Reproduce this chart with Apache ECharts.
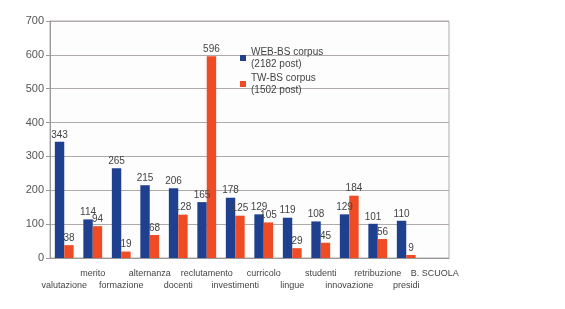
<!DOCTYPE html>
<html lang="it">
<head>
    <meta charset="UTF-8">
    <title>WEB-BS vs TW-BS</title>
    <script src="https://cdn.jsdelivr.net/npm/echarts@6/dist/echarts.min.js"></script>
    <style>
        html, body { margin: 0; padding: 0; background: #fff; }
        #chart { width: 565px; height: 309px; }
    </style>
</head>
<body>
    <div id="chart"></div>
    <script>
        // categorie e valori
        const categorie = ['valutazione', 'merito', 'formazione', 'alternanza', 'docenti', 'reclutamento',
            'investimenti', 'curricolo', 'lingue', 'studenti', 'innovazione', 'retribuzione', 'presidi', 'B. SCUOLA'];
        const webBS = [343, 114, 265, 215, 206, 165, 178, 129, 119, 108, 129, 101, 110, null];
        const twBS = [38, 94, 19, 68, 128, 596, 125, 105, 29, 45, 184, 56, 9, null];
        const nomiSerie = ['WEB-BS corpus\n(2182 post)', 'TW-BS corpus\n(1502 post)'];
        const colori = ['#1f3f8f', '#ef4b24'];

        const chart = echarts.init(document.getElementById('chart'));

        const etichetta = {
            show: true,
            position: 'top',
            distance: 2,
            color: '#444',
            fontSize: 10,
            fontFamily: 'Liberation Sans'
        };

        chart.setOption({
            backgroundColor: '#fff',
            animation: false,
            textStyle: { fontFamily: 'Liberation Sans' },
            grid: {
                left: 50, right: 116, top: 21, bottom: 51,
                show: true,
                backgroundColor: '#fdfdfd',
                borderColor: '#b0aaa8',
                borderWidth: 1
            },
            legend: {
                orient: 'vertical',
                left: 235,
                top: 41,
                icon: 'rect',
                itemWidth: 6,
                itemHeight: 6,
                itemGap: 2,
                textStyle: { fontSize: 10, color: '#444', lineHeight: 12 },
                data: nomiSerie
            },
            xAxis: {
                type: 'category',
                data: categorie,
                axisLine: { lineStyle: { color: '#999' } },
                axisTick: { alignWithLabel: false, length: 5, lineStyle: { color: '#999' } },
                axisLabel: {
                    interval: 0,
                    margin: 10,
                    fontSize: 9,
                    color: '#444',
                    lineHeight: 12,
                    formatter: function (v, i) {
                        return i % 2 === 0 ? '\n' + v : v;
                    }
                }
            },
            yAxis: {
                type: 'value',
                min: 0,
                max: 700,
                interval: 100,
                axisLine: { show: true, lineStyle: { color: '#999' } },
                axisTick: { show: true, length: 4, lineStyle: { color: '#999' } },
                axisLabel: { fontSize: 11, color: '#555', margin: 6 },
                splitLine: { lineStyle: { color: '#b0aaa8' } }
            },
            series: [
                {
                    name: nomiSerie[0],
                    type: 'bar',
                    data: webBS,
                    itemStyle: { color: colori[0] },
                    barGap: '0%',
                    barCategoryGap: '34%',
                    label: etichetta
                },
                {
                    name: nomiSerie[1],
                    type: 'bar',
                    data: twBS,
                    itemStyle: { color: colori[1] },
                    label: etichetta
                }
            ]
        });
    </script>
</body>
</html>
